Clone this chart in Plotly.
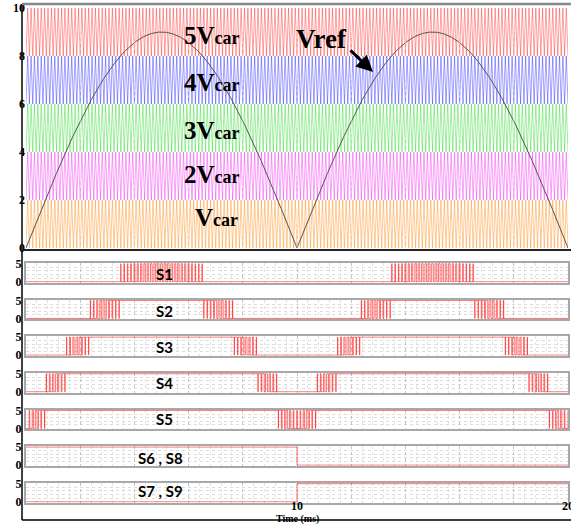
import numpy as np
import plotly.graph_objects as go

# ---------------- data ----------------
t_end_ms = 20.0                 # time span (ms)
vref_peak = 9.0                 # peak of rectified reference
vref_half_period_ms = 10.0      # rectified sine repeats every 10 ms
carrier_freq_khz = 8.0          # carrier frequency (estimated)
carrier_levels = [8, 6, 4, 2, 0]            # bottom of each carrier band
carrier_span = 2.0
carrier_names = ["5V", "4V", "3V", "2V", "V"]
carrier_colors = ["rgba(255,30,30,0.42)", "rgba(30,30,255,0.42)", "rgba(30,215,30,0.42)",
                  "rgba(240,30,240,0.42)", "rgba(255,140,20,0.45)"]
switch_names = ["S1", "S2", "S3", "S4", "S5", "S6 , S8", "S7 , S9"]
switch_high = 5.0
top_yticks = [0, 2, 4, 6, 8, 10]
grid_xticks = [0, 2, 4, 6, 8, 10, 12, 14, 16, 18, 20]
bottom_xlabels = [10, 20]

# ---------------- signals (PWM comparison) ----------------
Tc = 1.0 / carrier_freq_khz
n_half = int(round(t_end_ms / (Tc / 2)))
t_tri = np.arange(n_half + 1) * (Tc / 2)
tri_unit = np.where(np.arange(n_half + 1) % 2 == 0, 0.0, 1.0)

t_ref = np.linspace(0, t_end_ms, 2001)
vref = vref_peak * np.abs(np.sin(np.pi * t_ref / vref_half_period_ms))

t_f = np.linspace(0, t_end_ms, 100001)
vref_f = vref_peak * np.abs(np.sin(np.pi * t_f / vref_half_period_ms))
phase = (t_f % Tc) / Tc
tri_f = np.where(phase < 0.5, 2 * phase, 2 - 2 * phase)


def compress(t, s):
    idx = np.concatenate([[0], np.nonzero(np.diff(s))[0] + 1, [len(s) - 1]])
    return t[idx], s[idx]


switch_signals = []
for lvl in carrier_levels:
    s = np.where(vref_f > lvl + carrier_span * tri_f, switch_high, 0.0)
    switch_signals.append(compress(t_f, s))
s6 = np.where(t_f < vref_half_period_ms, switch_high, 0.0)
s7 = np.where(t_f >= vref_half_period_ms, switch_high, 0.0)
switch_signals.append(compress(t_f, s6))
switch_signals.append(compress(t_f, s7))

# ---------------- layout helpers ----------------
W, H = 571, 525
ML, MR, MT, MB = 26, 3, 8, 22
PW, PH = W - ML - MR, H - MT - MB


def py(p):
    return 1 - (p - MT) / PH


def px(p):
    return (p - ML) / PW


fig = go.Figure()
serif = "Liberation Serif"

# top panel
for lvl, col in zip(carrier_levels, carrier_colors):
    fig.add_trace(go.Scatter(x=t_tri, y=lvl + carrier_span * tri_unit, mode="lines",
                             line=dict(color=col, width=1), hoverinfo="skip",
                             showlegend=False, xaxis="x", yaxis="y"))
fig.add_trace(go.Scatter(x=t_ref, y=vref, mode="lines", line=dict(color="#555555", width=1),
                         showlegend=False, xaxis="x", yaxis="y"))

layout = dict(
    width=W, height=H, margin=dict(l=ML, r=MR, t=MT, b=MB, autoexpand=False),
    paper_bgcolor="white", plot_bgcolor="white", showlegend=False,
    xaxis=dict(domain=[0, 1], range=[0, t_end_ms], showticklabels=False, showgrid=False,
               zeroline=False, ticks="", automargin=False),
    yaxis=dict(domain=[max(0, py(248)), 1], range=[0, 10], tickvals=top_yticks, showgrid=False,
               zeroline=False, ticks="", automargin=False,
               tickfont=dict(family=serif, size=12, color="black", weight="bold")),
)

n_sw = len(switch_names)
tops = [263 + 36.67 * i for i in range(n_sw)]
for i in range(n_sw):
    ax = i + 2
    xs, ys = switch_signals[i]
    fig.add_trace(go.Scatter(x=xs, y=ys, mode="lines", line=dict(color="rgba(255,20,20,0.6)", width=1),
                             line_shape="hv", showlegend=False, hoverinfo="skip",
                             xaxis=f"x{ax}", yaxis=f"y{ax}"))
    layout[f"xaxis{ax}"] = dict(
        domain=[0, 1], range=[0, t_end_ms], anchor=f"y{ax}", automargin=False,
        tickmode="array", tickvals=grid_xticks, showticklabels=False, ticks="",
        showgrid=True, gridcolor="#c4c4c4", griddash="dot", gridwidth=1,
        minor=dict(tickmode="linear", dtick=0.4, showgrid=True, gridcolor="#e2e2e2",
                   griddash="dot", gridwidth=1),
        showline=True, mirror=True, linecolor="#a8a8a8", linewidth=2, zeroline=False,
    )
    y0 = max(0.0, py(tops[i] + 19.5))
    layout[f"yaxis{ax}"] = dict(
        domain=[y0, py(tops[i])], range=[-0.2, 5.2], anchor=f"x{ax}", automargin=False,
        tickvals=[0, 5], ticks="",
        tickfont=dict(family=serif, size=12, color="black", weight="bold"),
        showgrid=False,
        minor=dict(tickmode="linear", dtick=1, showgrid=True, gridcolor="#dcdcdc",
                   griddash="dot", gridwidth=1),
        showline=True, mirror=True, linecolor="#a8a8a8", linewidth=2, zeroline=False,
    )

fig.update_layout(**layout)

# white dotted grid over carriers
shapes = []
for g in range(2, 20, 2):
    shapes.append(dict(type="line", xref="x", yref="y", x0=g, x1=g, y0=0, y1=10,
                       line=dict(color="rgba(255,255,255,0.45)", width=1, dash="dot"), layer="above"))
# frame lines
shapes += [
    dict(type="line", xref="paper", yref="paper", x0=px(22), x1=px(22), y0=py(520), y1=py(4),
         line=dict(color="black", width=1.5)),
    dict(type="line", xref="paper", yref="paper", x0=px(22), x1=px(571), y0=py(250), y1=py(250),
         line=dict(color="#222222", width=2)),
    dict(type="line", xref="paper", yref="paper", x0=px(22), x1=px(571), y0=py(520), y1=py(520),
         line=dict(color="black", width=1.5)),
    dict(type="line", xref="paper", yref="paper", x0=px(22), x1=px(571), y0=py(4), y1=py(4),
         line=dict(color="#888888", width=2.5)),
]
fig.update_layout(shapes=shapes)

ann = []
car_pos = [(212, 35), (212, 83), (212, 130), (212, 175), (216, 217)]
for name, (cx, cy) in zip(carrier_names, car_pos):
    ann.append(dict(xref="paper", yref="paper", x=px(cx), y=py(cy), xanchor="center", yanchor="middle",
                    text=f"<b>{name}<span style='font-size:18px'>car</span></b>", showarrow=False,
                    font=dict(family=serif, size=25, color="black")))
ann.append(dict(xref="paper", yref="paper", x=px(321), y=py(39), xanchor="center", yanchor="middle",
                text="<b>Vref</b>", showarrow=False, font=dict(family=serif, size=27, color="black")))
ann.append(dict(xref="paper", yref="paper", x=px(373), y=py(72), ax=-24, ay=-23, text="",
                showarrow=True, arrowhead=2, arrowsize=1.1, arrowwidth=3, arrowcolor="black"))
s_pos = [(164, 274), (164, 311), (164, 347), (164, 383), (164, 419), (160, 458), (160, 491)]
for name, (cx, cy) in zip(switch_names, s_pos):
    ann.append(dict(xref="paper", yref="paper", x=px(cx), y=py(cy), xanchor="center", yanchor="middle",
                    text=f"<b>{name}</b>", showarrow=False,
                    font=dict(family="Lato", size=15, color="black")))
# x tick labels of the bottom panel
for v in bottom_xlabels:
    ann.append(dict(xref="x8", yref="paper", x=v, y=py(506), xanchor="center", yanchor="middle",
                    text=f"<b>{v}</b>", showarrow=False,
                    font=dict(family=serif, size=12, color="black")))
ann.append(dict(xref="paper", yref="paper", x=px(297), y=py(518.5), xanchor="center", yanchor="middle",
                text="<b>Time (ms)</b>", showarrow=False, font=dict(family=serif, size=10, color="black")))
fig.update_layout(annotations=ann)

fig.write_html("out.html", config={"displayModeBar": False},
               post_script="document.body.style.margin='0';document.body.style.padding='0';")
